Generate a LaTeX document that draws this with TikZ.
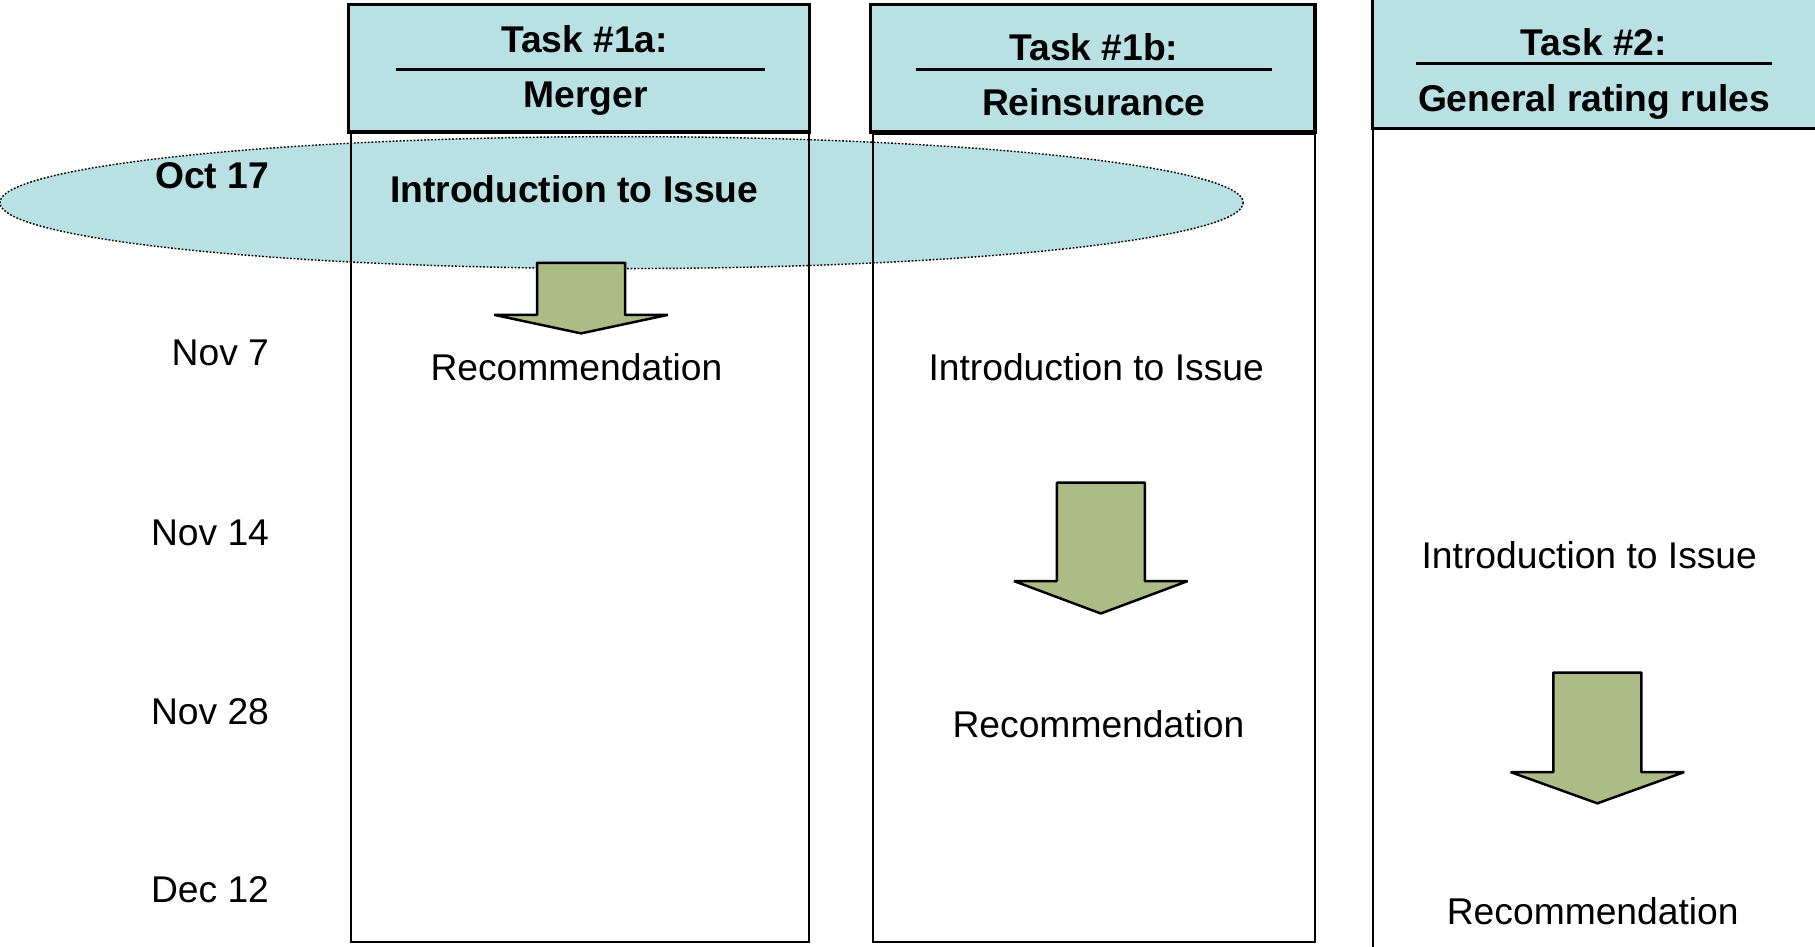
\documentclass[tikz,border=0pt]{standalone}
\usepackage{fontspec}
\setmainfont{Liberation Sans}
\definecolor{paleblue}{HTML}{B9E0E3}
\definecolor{olivefill}{HTML}{ADBB87}

% down arrow: centre x, shaft top, head base, tip
\newcommand\stagearrow[4]{%
  \draw[flow] (#1-38,#2) -- (#1+38,#2) -- (#1+38,#3) -- (#1+75,#3)
    -- (#1,#4) -- (#1-75,#3) -- (#1-38,#3) -- cycle;}

\begin{document}
\begin{tikzpicture}[x=0.011575cm, y=-0.011575cm,
  hdr/.style={fill=paleblue, draw=black, line width=0.9pt},
  lane/.style={draw=black, line width=0.6pt},
  flow/.style={fill=olivefill, draw=black, line width=0.7pt, line join=bevel},
  txt/.style={font=\fontsize{10.6}{12}\selectfont, inner sep=0pt, anchor=base},
  btxt/.style={txt, font=\fontsize{10.6}{12}\selectfont\bfseries},
  date/.style={txt, anchor=base east}]
\useasboundingbox (0,0) rectangle (1568,818);
\clip (0,0) rectangle (1568,818);

% highlighted first meeting
\filldraw[fill=paleblue, draw=black, line width=0.4pt,
  dash pattern=on 0.5pt off 0.5pt] (537,175) ellipse [x radius=537, y radius=57];

% task lanes
\draw[lane] (303,114) rectangle (699,814);
\draw[lane] (754,116) rectangle (1136,814);
\draw[lane] (1186,111) rectangle (1600,840);

% lane headers
\draw[hdr] (301,4) rectangle (699,114);
\draw[hdr] (752,4) rectangle (1136,114);
\draw[hdr] (1186,-10) rectangle (1600,111);
\draw[line width=0.8pt] (342,60) -- (661,60);
\draw[line width=0.8pt] (791,60) -- (1099,60);
\draw[line width=0.8pt] (1223,55) -- (1531,55);

\node[btxt] (h1a) at (505,45) {Task \#1a:};
\node[btxt] (h1b) at (506,93) {Merger};
\node[btxt] (h2a) at (945,52) {Task \#1b:};
\node[btxt] (h2b) at (945,100) {Reinsurance};
\node[btxt] (h3a) at (1377,48) {Task \#2:};
\node[btxt] (h3b) at (1377,96) {General rating rules};

% dates
\node[btxt, anchor=base east] (d0) at (233,163) {Oct 17};
\node[date] (d1) at (233,316) {Nov 7};
\node[date] (d2) at (233,471) {Nov 14};
\node[date] (d3) at (233,626) {Nov 28};
\node[date] (d4) at (233,780) {Dec 12};

% Task 1a
\node[btxt] (a1) at (496,175) {Introduction to Issue};
\stagearrow{502}{227}{272}{288}
\node[txt] (a2) at (498,329) {Recommendation};

% Task 1b
\node[txt] (b1) at (947,329) {Introduction to Issue};
\stagearrow{951}{417}{502}{530}
\node[txt] (b2) at (949,637) {Recommendation};

% Task 2
\node[txt] (c1) at (1373,491) {Introduction to Issue};
\stagearrow{1380}{581}{667}{694}
\node[txt] (c2) at (1376,799) {Recommendation};
\end{tikzpicture}
\end{document}
